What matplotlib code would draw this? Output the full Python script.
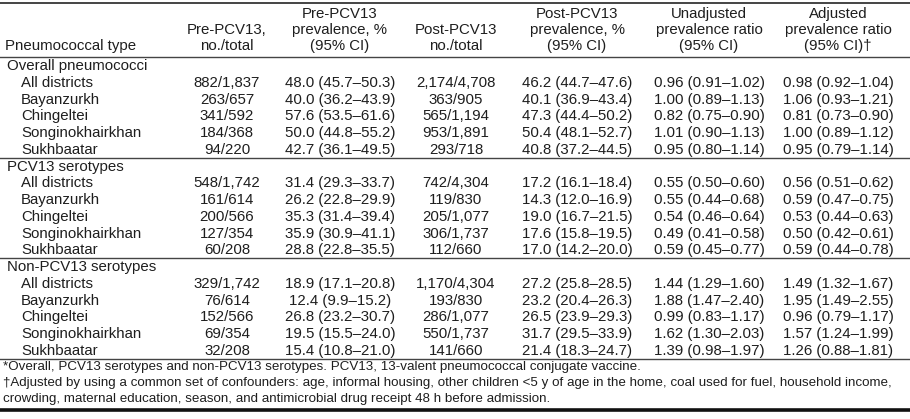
import matplotlib
matplotlib.use("Agg")
import matplotlib.pyplot as plt

plt.rcParams['font.family'] = ['Liberation Sans', 'DejaVu Sans']

# table content
groups = ["Overall pneumococci", "PCV13 serotypes", "Non-PCV13 serotypes"]
districts = ["All districts", "Bayanzurkh", "Chingeltei", "Songinokhairkhan", "Sukhbaatar"]

pre_n = [
    ["882/1,837", "263/657", "341/592", "184/368", "94/220"],
    ["548/1,742", "161/614", "200/566", "127/354", "60/208"],
    ["329/1,742", "76/614", "152/566", "69/354", "32/208"],
]
pre_prev = [
    ["48.0 (45.7–50.3)", "40.0 (36.2–43.9)", "57.6 (53.5–61.6)", "50.0 (44.8–55.2)", "42.7 (36.1–49.5)"],
    ["31.4 (29.3–33.7)", "26.2 (22.8–29.9)", "35.3 (31.4–39.4)", "35.9 (30.9–41.1)", "28.8 (22.8–35.5)"],
    ["18.9 (17.1–20.8)", "12.4 (9.9–15.2)", "26.8 (23.2–30.7)", "19.5 (15.5–24.0)", "15.4 (10.8–21.0)"],
]
post_n = [
    ["2,174/4,708", "363/905", "565/1,194", "953/1,891", "293/718"],
    ["742/4,304", "119/830", "205/1,077", "306/1,737", "112/660"],
    ["1,170/4,304", "193/830", "286/1,077", "550/1,737", "141/660"],
]
post_prev = [
    ["46.2 (44.7–47.6)", "40.1 (36.9–43.4)", "47.3 (44.4–50.2)", "50.4 (48.1–52.7)", "40.8 (37.2–44.5)"],
    ["17.2 (16.1–18.4)", "14.3 (12.0–16.9)", "19.0 (16.7–21.5)", "17.6 (15.8–19.5)", "17.0 (14.2–20.0)"],
    ["27.2 (25.8–28.5)", "23.2 (20.4–26.3)", "26.5 (23.9–29.3)", "31.7 (29.5–33.9)", "21.4 (18.3–24.7)"],
]
unadj = [
    ["0.96 (0.91–1.02)", "1.00 (0.89–1.13)", "0.82 (0.75–0.90)", "1.01 (0.90–1.13)", "0.95 (0.80–1.14)"],
    ["0.55 (0.50–0.60)", "0.55 (0.44–0.68)", "0.54 (0.46–0.64)", "0.49 (0.41–0.58)", "0.59 (0.45–0.77)"],
    ["1.44 (1.29–1.60)", "1.88 (1.47–2.40)", "0.99 (0.83–1.17)", "1.62 (1.30–2.03)", "1.39 (0.98–1.97)"],
]
adj = [
    ["0.98 (0.92–1.04)", "1.06 (0.93–1.21)", "0.81 (0.73–0.90)", "1.00 (0.89–1.12)", "0.95 (0.79–1.14)"],
    ["0.56 (0.51–0.62)", "0.59 (0.47–0.75)", "0.53 (0.44–0.63)", "0.50 (0.42–0.61)", "0.59 (0.44–0.78)"],
    ["1.49 (1.32–1.67)", "1.95 (1.49–2.55)", "0.96 (0.79–1.17)", "1.57 (1.24–1.99)", "1.26 (0.88–1.81)"],
]

headers = [
    "Pneumococcal type",
    "Pre-PCV13,\nno./total",
    "Pre-PCV13\nprevalence, %\n(95% CI)",
    "Post-PCV13\nno./total",
    "Post-PCV13\nprevalence, %\n(95% CI)",
    "Unadjusted\nprevalence ratio\n(95% CI)",
    "Adjusted\nprevalence ratio\n(95% CI)†",
]

footnotes = [
    "*Overall, PCV13 serotypes and non-PCV13 serotypes. PCV13, 13-valent pneumococcal conjugate vaccine.",
    "†Adjusted by using a common set of confounders: age, informal housing, other children <5 y of age in the home, coal used for fuel, household income,",
    "crowding, maternal education, season, and antimicrobial drug receipt 48 h before admission.",
]

W, H = 910, 419
fig = plt.figure(figsize=(W / 100, H / 100), dpi=100)
ax = fig.add_axes([0, 0, 1, 1])
ax.set_xlim(0, W)
ax.set_ylim(H, 0)
ax.axis("off")

txt = "#1e1e1e"
fs = 10.8
col_x = [5, 227, 340, 456, 577, 709, 838]
pitch = 16.75
hdr_bottom = 47
top_body = 66

# header
for i, h in enumerate(headers):
    ha = "left" if i == 0 else "center"
    ax.text(col_x[i], hdr_bottom + 6, h, ha=ha, va="bottom", fontsize=fs,
            color=txt, linespacing=1.18, multialignment=ha)

ax.axhline(3, color="#444444", lw=1.4)
ax.axhline(57, color="#444444", lw=1.0)

# body
row = 0
for g, grp in enumerate(groups):
    y = top_body + row * pitch
    ax.text(col_x[0] + 2, y, grp, ha="left", va="center", fontsize=fs, color=txt)
    row += 1
    for d, dist in enumerate(districts):
        y = top_body + row * pitch
        ax.text(col_x[0] + 16, y, dist, ha="left", va="center", fontsize=fs, color=txt)
        cells = [pre_n[g][d], pre_prev[g][d], post_n[g][d], post_prev[g][d],
                 unadj[g][d], adj[g][d]]
        for c, val in enumerate(cells):
            ax.text(col_x[c + 1], y, val, ha="center", va="center", fontsize=fs, color=txt)
        row += 1
    ax.axhline(top_body + (row - 1) * pitch + 8, color="#444444", lw=1.0)

# footnotes - shrink so the long second line ends near the right edge
y0 = top_body + row * pitch
fn_texts = []
for k, fn in enumerate(footnotes):
    t = ax.text(3, y0 + k * 16.3 - 1, fn, ha="left", va="center", fontsize=fs, color=txt)
    fn_texts.append(t)
fig.canvas.draw()
r = fig.canvas.get_renderer()
w2 = fn_texts[1].get_window_extent(r).width
fn_fs = fs * 893 / w2
for t in fn_texts:
    t.set_fontsize(fn_fs)

ax.axhline(y0 + 2 * 16.3 + 10, color="#111111", lw=2.6)

fig.savefig("out.png", dpi=100)
